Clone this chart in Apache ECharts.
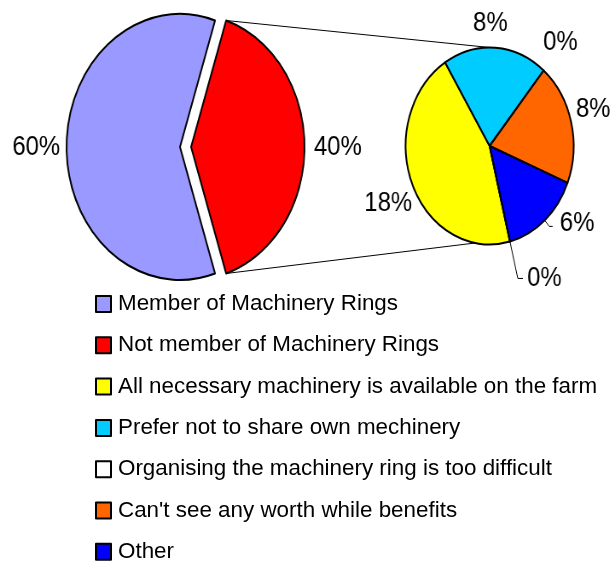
<!DOCTYPE html>
<html>
<head>
<meta charset="utf-8">
<script src="https://cdn.jsdelivr.net/npm/echarts@6/dist/echarts.min.js"></script>
<style>
  body { margin: 0; background: #fff; }
  #wrap { position: relative; width: 614px; height: 563px; overflow: hidden; }
  /* pies are drawn on a horizontally squeezed canvas so they come out oval */
  #pies { position: absolute; left: 0; top: 0; width: 720px; height: 300px; transform: scaleX(0.853); transform-origin: 0 0; }
  #legend { position: absolute; left: 0; top: 240px; width: 614px; height: 340px; }
</style>
</head>
<body>
<div id="wrap">
  <div id="pies"></div>
  <div id="legend"></div>
</div>
<script>
// main pie
const mainNames = ['Member of Machinery Rings', 'Not member of Machinery Rings']
const mainValues = [60, 40]
const mainColors = ['#9999FF', '#FF0000']

// breakdown of the non-members (second pie), in drawing order
const reasonNames = [
  'All necessary machinery is available on the farm',
  'Prefer not to share own mechinery',
  'Organising the machinery ring is too difficult',
  "Can't see any worth while benefits",
  'Other',
  'Not member (rest)'
]
const reasonValues = [18, 8, 0, 8, 6, 0]
const reasonColors = ['#FFFF00', '#00CCFF', '#FFFFFF', '#FF6600', '#0000FF', '#FF0000']

const legendNames = mainNames.concat(reasonNames.slice(0, 5))

const font = 'Liberation Sans, Arial, sans-serif'

// geometry (in the unsqueezed canvas)
const c1 = [211, 147], r1 = 133, off1 = 13
const c2 = [574, 146], r2 = 98.5
// nudges for the labels, by data index
const mainShift = [[3.5, 0], [0, 0]]
const labelShift = [[14, 15], [-32, -14], [-12, -21], [-9, -10], [3.5, -3], [0, 0]]

const piesChart = echarts.init(document.getElementById('pies'))
const rad = Math.PI / 180
const tipX = c1[0] + off1 + r1 * Math.cos(72 * rad)
const tipDy = r1 * Math.sin(72 * rad)

piesChart.setOption({
  animation: false,
  graphic: [
    {
      type: 'line', z: -1,
      shape: { x1: tipX, y1: c1[1] - tipDy, x2: c2[0], y2: c2[1] - r2 },
      style: { stroke: '#000', lineWidth: 1 }
    },
    {
      type: 'line', z: -1,
      shape: { x1: tipX, y1: c1[1] + tipDy, x2: c2[0] + r2 * Math.cos(260 * rad), y2: c2[1] - r2 * Math.sin(260 * rad) },
      style: { stroke: '#000', lineWidth: 1 }
    }
  ],
  series: [
    {
      type: 'pie',
      silent: true,
      center: c1,
      radius: r1,
      startAngle: -72,
      selectedMode: 'single',
      selectedOffset: off1,
      avoidLabelOverlap: false,
      itemStyle: { borderColor: '#000', borderWidth: 2 },
      label: { position: 'outside', formatter: '{c}%', fontSize: 28, color: '#000', fontFamily: font },
      labelLine: { show: false, length: 6, length2: 0 },
      labelLayout: function (p) {
        const s = mainShift[p.dataIndex] || [0, 0]
        return { dx: s[0], dy: s[1] }
      },
      emphasis: { disabled: true },
      data: mainNames.map((n, i) => ({
        name: n, value: mainValues[i], selected: i === 1,
        itemStyle: { color: mainColors[i] }
      }))
    },
    {
      type: 'pie',
      silent: true,
      center: c2,
      radius: r2,
      startAngle: -76,
      avoidLabelOverlap: false,
      itemStyle: { borderColor: '#000', borderWidth: 2 },
      label: { position: 'outside', formatter: '{c}%', fontSize: 28, color: '#000', fontFamily: font },
      labelLine: { show: false, length: 10, length2: 0, lineStyle: { color: '#000', width: 1 } },
      labelLayout: function (p) {
        const s = labelShift[p.dataIndex] || [0, 0]
        return { dx: s[0], dy: s[1] }
      },
      emphasis: { disabled: true },
      data: reasonNames.map((n, i) => ({
        name: n, value: reasonValues[i],
        itemStyle: { color: reasonColors[i] },
        labelLine: i === 4 ? { show: true, length: 8, length2: 4 }
          : i === 5 ? { show: true, length: 38, length2: 6 } : undefined
      }))
    }
  ]
})

// legend on its own (unsqueezed) canvas
const legendChart = echarts.init(document.getElementById('legend'))
const allNames = mainNames.concat(reasonNames)
const allColors = mainColors.concat(reasonColors)
legendChart.setOption({
  animation: false,
  legend: {
    orient: 'vertical',
    left: 95,
    top: 53,
    padding: 0,
    icon: 'rect',
    itemWidth: 15,
    itemHeight: 16,
    itemGap: 19.3,
    selectedMode: false,
    data: legendNames,
    textStyle: { fontSize: 22.4, lineHeight: 22, color: '#000', fontFamily: font, padding: [0, 0, 0, 2] }
  },
  series: [{
    type: 'pie',
    silent: true,
    center: [-300, -300],
    radius: 1,
    label: { show: false },
    itemStyle: { borderColor: '#000', borderWidth: 1.5 },
    data: allNames.map((n, i) => ({ name: n, value: 1, itemStyle: { color: allColors[i] } }))
  }]
})
</script>
</body>
</html>
